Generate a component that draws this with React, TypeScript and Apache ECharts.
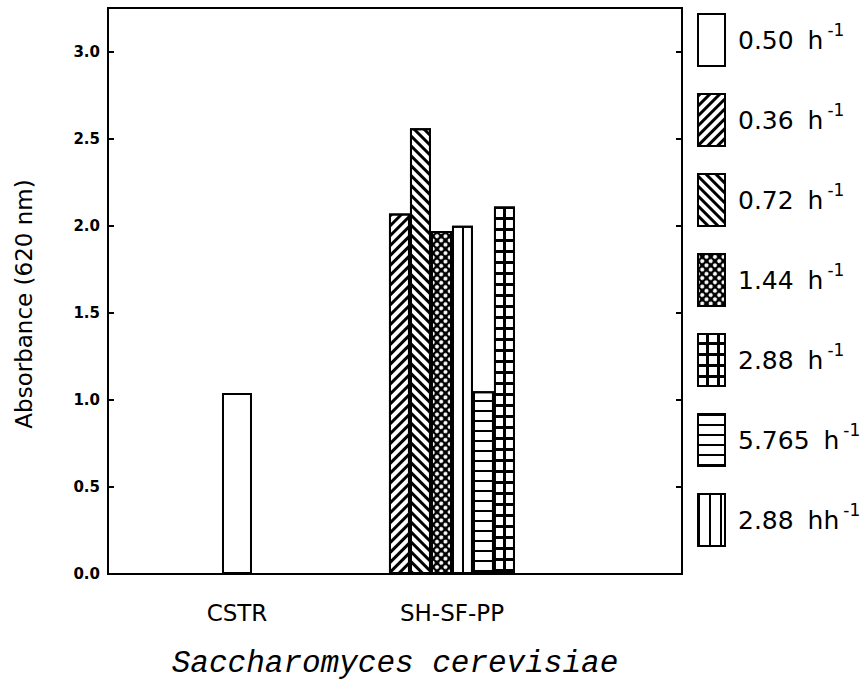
import React, { useEffect, useRef } from 'react';
import * as echarts from 'echarts';

const categories = ['CSTR', 'SH-SF-PP'];
const categoryPositions = [1, 2];
const cstrSeriesName = '0.50 h';
const cstrValues = [1.04];
const shSeriesNames = ['0.36 h', '0.72 h', '1.44 h', '2.88 hh', '5.765 h', '2.88 h'];
const shValues = [2.07, 2.56, 1.97, 2.0, 1.05, 2.11];
const legendOrder = ['0.50 h', '0.36 h', '0.72 h', '1.44 h', '2.88 h', '5.765 h', '2.88 hh'];
const yMin = 0;
const yMax = 3.25;
const yStep = 0.5;
const xMin = 0.4;
const xMax = 3.07;

const styles: Record<string, any> = {
  '0.50 h': { color: '#fff' },
  '0.36 h': {
    color: '#fff',
    decal: { symbol: 'rect', symbolSize: 1, dashArrayX: [1, 0], dashArrayY: [3, 4], rotation: -Math.PI / 4, color: '#000' },
  },
  '0.72 h': {
    color: '#fff',
    decal: { symbol: 'rect', symbolSize: 1, dashArrayX: [1, 0], dashArrayY: [3, 4], rotation: Math.PI / 4, color: '#000' },
  },
  '1.44 h': {
    color: '#000',
    decal: { symbol: 'circle', symbolSize: 1, dashArrayX: [3.6, 1.4], dashArrayY: [3.6, 1.4], rotation: Math.PI / 4, color: '#fff' },
  },
  '2.88 h': {
    color: '#000',
    decal: { symbol: 'rect', symbolSize: 1, dashArrayX: [7.5, 2.5], dashArrayY: [7.5, 2.5], color: '#fff' },
  },
  '5.765 h': {
    color: '#fff',
    decal: { symbol: 'rect', symbolSize: 1, dashArrayX: [1, 0], dashArrayY: [2, 7.5], color: '#000' },
  },
  '2.88 hh': {
    color: '#fff',
    decal: { symbol: 'rect', symbolSize: 1, dashArrayX: [2, 8.5], dashArrayY: [1, 0], color: '#000' },
  },
};

function itemStyleFor(name: string) {
  return { ...styles[name], borderColor: '#000', borderWidth: 2 };
}

export default function App() {
  const ref = useRef<HTMLDivElement>(null);
  useEffect(() => {
    if (!ref.current) return;
    const chart = echarts.init(ref.current, undefined, { renderer: 'svg' });
    const series: any[] = [
      {
        name: cstrSeriesName,
        type: 'bar',
        xAxisIndex: 1,
        yAxisIndex: 0,
        barWidth: 30,
        data: cstrValues.map((v, i) => [categoryPositions[i], v]),
        itemStyle: itemStyleFor(cstrSeriesName),
      },
      ...shSeriesNames.map((name, i) => ({
        name,
        type: 'bar',
        xAxisIndex: 0,
        yAxisIndex: 0,
        barWidth: 21,
        barGap: '0%',
        data: [[categoryPositions[1], shValues[i]]],
        itemStyle: itemStyleFor(name),
      })),
    ];
    chart.setOption({
      animation: false,
      backgroundColor: '#fff',
      grid: { left: 108, right: 186, top: 8, bottom: 108, show: true, borderColor: '#000', borderWidth: 2, backgroundColor: 'transparent' },
      legend: {
        orient: 'vertical',
        left: 692,
        top: 8,
        itemWidth: 27,
        itemHeight: 52,
        itemGap: 26,
        selectedMode: false,
        data: legendOrder,
        icon: 'rect',
        formatter: (name: string) => {
          const parts = name.split(' ');
          return `{v|${parts[0]}} {u|${parts[1]}}{s|-1}`;
        },
        textStyle: {
          color: '#000',
          fontFamily: 'DejaVu Sans',
          fontSize: 25,
          padding: [0, 0, 0, 8],
          rich: {
            v: { fontFamily: 'DejaVu Sans', fontSize: 25, lineHeight: 38, color: '#000' },
            u: { fontFamily: 'DejaVu Sans', fontSize: 25, lineHeight: 38, color: '#000', padding: [0, 0, 0, 6] },
            s: { fontFamily: 'DejaVu Sans', fontSize: 17, lineHeight: 14, verticalAlign: 'top', color: '#000', padding: [0, 0, 0, 4] },
          },
        },
      },
      xAxis: [
        {
          type: 'value',
          min: xMin,
          max: xMax,
          position: 'bottom',
          axisLine: { show: true, lineStyle: { color: '#000', width: 2 } },
          axisTick: { show: false },
          splitLine: { show: false },
          axisLabel: {
            customValues: categoryPositions,
            formatter: (v: number) => {
              const idx = categoryPositions.indexOf(Math.round(v));
              return idx >= 0 ? categories[idx] : '';
            },
            color: '#000',
            fontFamily: 'DejaVu Sans',
            fontSize: 23,
            margin: 27,
          },
          name: 'Saccharomyces cerevisiae',
          nameLocation: 'middle',
          nameGap: 74,
          nameTextStyle: { color: '#000', fontFamily: 'Liberation Mono', fontStyle: 'italic', fontSize: 31 },
        },
        { type: 'value', min: xMin, max: xMax, show: false },
      ],
      yAxis: [
        {
          type: 'value',
          min: yMin,
          max: yMax,
          interval: yStep,
          position: 'left',
          axisLine: { show: true, lineStyle: { color: '#000', width: 2 } },
          axisTick: { show: true, inside: true, length: 6, lineStyle: { color: '#000', width: 2 } },
          splitLine: { show: false },
          axisLabel: {
            showMaxLabel: false,
            formatter: (v: number) => v.toFixed(1),
            color: '#000',
            fontFamily: 'DejaVu Sans',
            fontWeight: 'bold',
            fontSize: 15,
            margin: 8,
          },
          name: 'Absorbance (620 nm)',
          nameLocation: 'middle',
          nameGap: 73,
          nameTextStyle: { color: '#000', fontFamily: 'DejaVu Sans', fontSize: 23, padding: [0, 26, 0, 0] },
        },
        {
          type: 'value',
          min: yMin,
          max: yMax,
          interval: yStep,
          position: 'right',
          axisLine: { show: true, lineStyle: { color: '#000', width: 2 } },
          axisTick: { show: true, inside: true, length: 6, lineStyle: { color: '#000', width: 2 } },
          axisLabel: { show: false },
          splitLine: { show: false },
        },
      ],
      series,
    });
    return () => chart.dispose();
  }, []);
  return <div ref={ref} style={{ position: 'fixed', left: 0, top: 0, width: 868, height: 684 }} />;
}
